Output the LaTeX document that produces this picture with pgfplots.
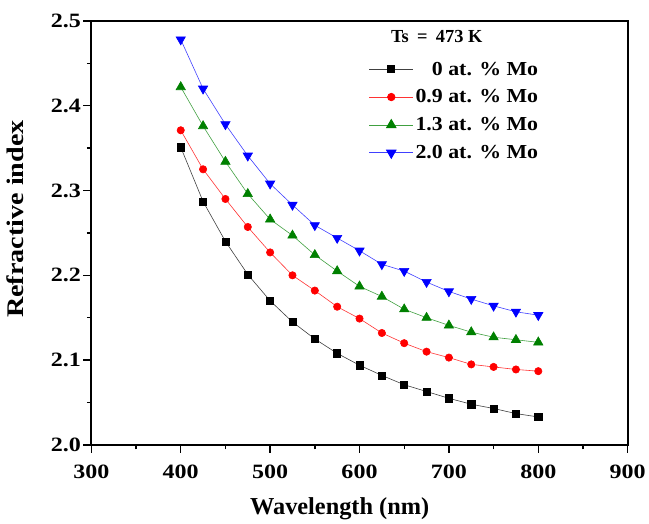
\documentclass[border=0pt]{standalone}
\usepackage{pgfplots}
\pgfplotsset{compat=1.18}
\usepackage{fontspec}
\setmainfont{Liberation Serif}
\newfontfamily\tickfont[FakeStretch=1.18]{Liberation Serif}
\newfontfamily\ylabfont[FakeStretch=1.18]{Liberation Serif}
\newfontfamily\legfont[FakeStretch=1.1]{Liberation Serif}
\definecolor{ogreen}{RGB}{0,128,0}
\begin{document}
\begin{tikzpicture}
\begin{axis}[
  scale only axis,
  width=540pt, height=427pt,
  xmin=300, xmax=900, ymin=2.0, ymax=2.5,
  xtick={300,400,...,900},
  ytick={2.0,2.1,...,2.5},
  minor x tick num=1, minor y tick num=1,
  tick align=outside,
  xtick pos=bottom, ytick pos=left,
  major tick length=8pt, minor tick length=4.5pt,
  every tick/.style={line width=1.4pt, black},
  axis line style={line width=1.8pt},
  /pgf/number format/assume math mode=true,
  yticklabel style={/pgf/number format/fixed, /pgf/number format/precision=1, /pgf/number format/fixed zerofill, xshift=1pt},
  xticklabel style={/pgf/number format/1000 sep={}, yshift=-9pt},
  ticklabel style={font=\tickfont\fontsize{20.5}{20.5}\selectfont\bfseries},
  xlabel={Wavelength (nm)}, ylabel={Refractive index},
  xlabel style={font=\fontsize{24.5}{24.5}\selectfont\bfseries, yshift=-12pt, xshift=-20pt},
  ylabel style={font=\ylabfont\fontsize{24}{24}\selectfont\bfseries, yshift=20pt, xshift=14pt},
  legend style={at={(rel axis cs:0.839,0.911)}, anchor=north east, draw=none, fill=none,
     font=\legfont\fontsize{20}{22}\selectfont\bfseries, row sep=9.3pt,
     legend cell align=left, inner sep=1pt},
  legend image code/.code={\draw[mark repeat=2, mark phase=2, line width=0.9pt, #1] plot coordinates {(0pt,0pt) (22pt,0pt) (44pt,0pt)};},
]
\addplot[black!75, line width=0.6pt, mark=square*, mark size=3.6pt, mark options={black, solid}] coordinates {
(400,2.351)(425,2.287)(450,2.240)(475,2.201)(500,2.170)(525,2.145)(550,2.125)(575,2.108)(600,2.094)(625,2.082)(650,2.071)(675,2.063)(700,2.055)(725,2.048)(750,2.043)(775,2.037)(800,2.033)};
\addlegendentry{\phantom{0.}0 at. \% Mo}
\addplot[red!80, line width=0.6pt, mark=*, mark size=3.7pt, mark options={red, solid}] coordinates {
(400,2.371)(425,2.325)(450,2.290)(475,2.257)(500,2.227)(525,2.200)(550,2.182)(575,2.163)(600,2.149)(625,2.132)(650,2.120)(675,2.110)(700,2.103)(725,2.095)(750,2.092)(775,2.089)(800,2.087)};
\addlegendentry{0.9 at. \% Mo}
\addplot[ogreen!75, line width=0.6pt, mark=triangle*, mark size=5.4pt, mark options={ogreen, solid}] coordinates {
(400,2.422)(425,2.376)(450,2.334)(475,2.296)(500,2.266)(525,2.247)(550,2.224)(575,2.205)(600,2.187)(625,2.175)(650,2.160)(675,2.150)(700,2.141)(725,2.133)(750,2.127)(775,2.124)(800,2.121)};
\addlegendentry{1.3 at. \% Mo}
\addplot[blue!75, line width=0.6pt, mark=triangle*, mark size=5.4pt, mark options={blue, solid, rotate=180}] coordinates {
(400,2.478)(425,2.420)(450,2.378)(475,2.341)(500,2.308)(525,2.283)(550,2.259)(575,2.244)(600,2.229)(625,2.213)(650,2.205)(675,2.192)(700,2.181)(725,2.172)(750,2.164)(775,2.157)(800,2.153)};
\addlegendentry{2.0 at. \% Mo}
\node[font=\fontsize{18.5}{18.5}\selectfont\bfseries, anchor=center] at (rel axis cs:0.644,0.962) {Ts\hspace{0.45em}=\hspace{0.45em}473 K};
\coordinate (bbl) at (axis cs:197.8,1.9192);
\coordinate (btr) at (axis cs:918.9,2.5246);
\end{axis}
\path (bbl) rectangle (btr);
\end{tikzpicture}
\end{document}
